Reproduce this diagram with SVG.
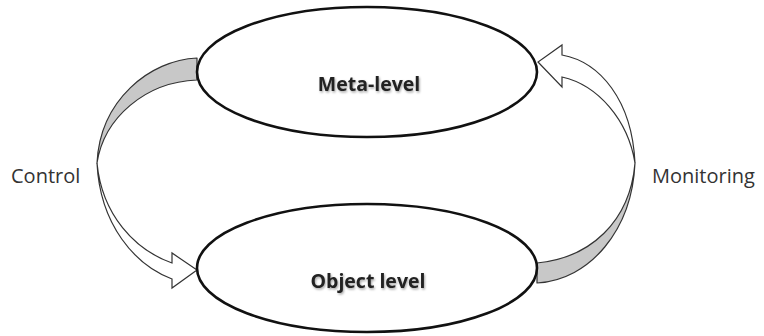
<svg xmlns="http://www.w3.org/2000/svg" width="764" height="336" viewBox="0 0 764 336">
  <defs>
    <filter id="soft" x="-20%" y="-40%" width="140%" height="180%">
      <feDropShadow dx="1" dy="1.5" stdDeviation="1.2" flood-color="#000" flood-opacity="0.35"/>
    </filter>
  </defs>
  <style>
    .level { fill: #ffffff; stroke: #111111; stroke-width: 2.6; }
    .name { font-family: "Open Sans", "Liberation Sans", sans-serif; font-weight: bold; font-size: 19.5px; fill: #222222; text-anchor: middle; }
    .label { font-family: "Open Sans", "Liberation Sans", sans-serif; font-size: 20px; fill: #333333; }
    .back { fill: #c8c8c8; stroke: #333333; stroke-width: 1.2; stroke-linejoin: round; }
    .front { fill: #ffffff; stroke: #333333; stroke-width: 1.2; stroke-linejoin: miter; }
  </style>

  <g id="connectors">
    <!-- control: meta-level down to object level -->
    <g id="control-arrow">
      <path class="back" d="M197,58 C150,60 100,100 97,163 C104,118 145,82 197,80 Z"/>
      <path class="front" d="M97,163 C100,225 135,265 172,279 L172,288 L197,270 L172,253 L172,263 C135,250 102,215 97,163 Z"/>
    </g>
    <!-- monitoring: object level up to meta-level -->
    <g id="monitoring-arrow">
      <path class="back" d="M537,263 C590,258 630,222 635,163 C632,230 590,280 537,283 Z"/>
      <path class="front" d="M635,163 C632,100 600,62 562,55 L562,45 L538,62 L562,87 L562,77 C598,85 628,120 635,163 Z"/>
    </g>
  </g>

  <g id="meta-level">
    <ellipse class="level" cx="367" cy="72" rx="170" ry="65"/>
    <text class="name" x="369" y="91" filter="url(#soft)">Meta-level</text>
  </g>

  <g id="object-level">
    <ellipse class="level" cx="367" cy="268" rx="170" ry="64"/>
    <text class="name" x="368" y="288" filter="url(#soft)">Object level</text>
  </g>

  <g id="control-label">
    <text class="label" x="11" y="183">Control</text>
  </g>
  <g id="monitoring-label">
    <text class="label" x="652" y="183">Monitoring</text>
  </g>
</svg>
